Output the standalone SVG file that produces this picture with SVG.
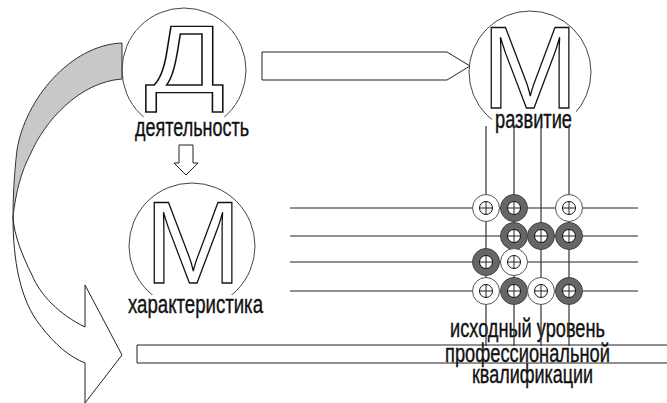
<svg xmlns="http://www.w3.org/2000/svg" width="667" height="403" viewBox="0 0 667 403">
<style>
.bg{fill:#fff}
.ol{fill:#fff;stroke:#222;stroke-width:1}
.ring{fill:none;stroke:#444;stroke-width:1}
.big{font-family:"Liberation Sans",Arial,sans-serif;fill:#fff;stroke:#111;stroke-width:1.3}
.lbl{font-family:"Liberation Sans",Arial,sans-serif;font-size:26px;fill:#111;stroke:#111;stroke-width:0.4}
.ln{stroke:#222;stroke-width:1;fill:none}
.lnv{stroke:#333;stroke-width:1.2;fill:none}
.gw{fill:#fff;stroke:#555;stroke-width:1}
.gg{fill:#666;stroke:#444;stroke-width:1}
.in{fill:#fff;stroke:#111;stroke-width:1}
</style>
<defs>
<g id="beadW"><circle class="gw" r="13.5"/><circle class="in" r="6.5"/><path class="ln" d="M-6.5,0H6.5M0,-6.5V6.5"/></g>
<g id="beadG"><circle class="gg" r="13.5"/><circle class="in" r="6.5"/><path class="ln" d="M-6.5,0H6.5M0,-6.5V6.5"/></g>
</defs>
<rect width="667" height="403" fill="#fff"/>
<g id="connectors">
<path id="curved-arrow-back" d="M122,43 C70,45 25,100 17,150 C14,175 13,200 13,217 C16,190 22,170 30,155 C45,120 80,82 122,79 Z" fill="#c8c8c8" stroke="#333" stroke-width="1"/>
<path id="curved-arrow" class="ol" d="M13,217 C13,260 20,300 40,325 C55,345 70,357 85,363 L85,403 L122,355 L85,285 L85,327 C60,315 40,295 32,275 C22,255 14,235 13,217 Z"/>
<path id="arrow-right" class="ol" d="M262,52 H447 L470,66 L447,80 H262 Z"/>
<path id="arrow-down" class="ol" d="M179,145 H193 V163 H198 L186,175 L174,163 H179 Z"/>
</g>
<g id="node-d">
<circle class="ring" cx="184" cy="70" r="62"/>
<text class="big" x="185" y="93" font-size="97" text-anchor="middle" textLength="80" lengthAdjust="spacingAndGlyphs">Д</text>
<rect class="bg" x="132" y="117" width="120" height="23"/>
<text class="lbl" x="135" y="136" textLength="114" lengthAdjust="spacingAndGlyphs">деятельность</text>
</g>
<g id="node-m-top">
<circle class="ring" cx="530" cy="72" r="61"/>
<text class="big" x="530" y="108" font-size="116" text-anchor="middle">М</text>
<rect class="bg" x="492" y="111" width="84" height="24"/>
<text class="lbl" x="495" y="128" textLength="77" lengthAdjust="spacingAndGlyphs">развитие</text>
</g>
<g id="node-m-mid">
<circle class="ring" cx="192" cy="246" r="63"/>
<text class="big" x="193" y="283" font-size="116" text-anchor="middle">М</text>
<rect class="bg" x="125" y="295" width="142" height="25"/>
<text class="lbl" x="128" y="313" textLength="135" lengthAdjust="spacingAndGlyphs">характеристика</text>
</g>
<text id="label-base" class="lbl" x="450" y="337" textLength="155" lengthAdjust="spacingAndGlyphs">исходный уровень</text>
<g id="grid">
<path class="ln" d="M290,208H638M290,236H638M290,262H638M290,291H638"/>
<path class="lnv" d="M486,126V346M514,126V346M541,126V346M569,126V346"/>
</g>
<g id="beads">
<use id="b11" href="#beadW" x="486" y="208"/>
<use id="b12" href="#beadG" x="514" y="208"/>
<use id="b14" href="#beadW" x="569" y="208"/>
<use id="b22" href="#beadG" x="514" y="236"/>
<use id="b23" href="#beadG" x="541" y="236"/>
<use id="b24" href="#beadG" x="569" y="236"/>
<use id="b31" href="#beadG" x="486" y="262"/>
<use id="b32" href="#beadW" x="514" y="262"/>
<use id="b41" href="#beadW" x="486" y="291"/>
<use id="b42" href="#beadG" x="514" y="291"/>
<use id="b43" href="#beadW" x="541" y="291"/>
<use id="b44" href="#beadG" x="569" y="291"/>
</g>
<g id="bar">
<path class="ln" d="M667,345H137V363H667"/>
<text class="lbl" x="445" y="362" textLength="165" lengthAdjust="spacingAndGlyphs">профессиональной</text>
<text class="lbl" x="472" y="383" textLength="121" lengthAdjust="spacingAndGlyphs">квалификации</text>
</g>
</svg>
